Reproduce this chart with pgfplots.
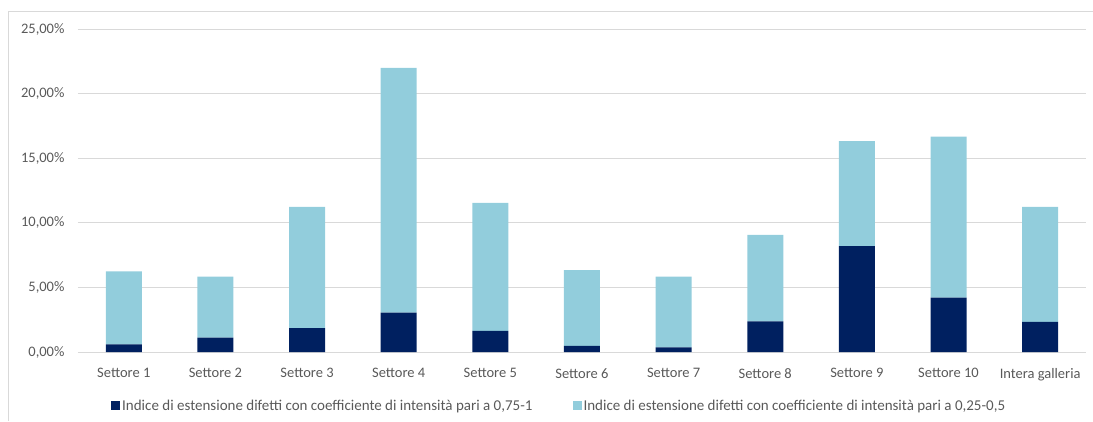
\documentclass[border=0pt]{standalone}
\usepackage{pgfplots}
\pgfplotsset{compat=1.18}
\usepackage{fontspec}
\setmainfont{Carlito}

\definecolor{navy}{RGB}{0,32,96}
\definecolor{lightblue}{RGB}{146,205,220}
\definecolor{gridgray}{RGB}{217,217,217}
\definecolor{labelgray}{RGB}{89,89,89}
\definecolor{framegray}{RGB}{217,217,217}

% Indice 0,75-1 (dark) and 0,25-0,5 (light), in percent
\pgfplotstableread{
x  alta  media
0  0.59  5.66
1  1.11  4.73
2  1.84  9.40
3  3.04  18.96
4  1.63  9.92
5  0.47  5.86
6  0.36  5.48
7  2.38  6.68
8  8.20  8.12
9  4.20  12.47
10 2.34  8.90
}\datatable

\begin{document}
\begin{tikzpicture}
\useasboundingbox (0pt,0pt) rectangle (1093pt,421pt);
\draw[framegray, line width=0.8pt] (8pt,0pt) -- (8pt,410pt) -- (1093pt,410pt);
\begin{axis}[
  at={(123.8pt,69pt)}, anchor=origin,
  scale only axis,
  width=1008pt, height=323pt,
  ybar stacked,
  bar width=36pt,
  xmin=-0.5, xmax=10.5,
  ymin=0, ymax=25,
  xtick={0,...,10},
  xticklabels={Settore 1,Settore 2,Settore 3,Settore 4,Settore 5,Settore 6,Settore 7,Settore 8,Settore 9,Settore 10,Intera galleria},
  ytick={0,5,10,15,20,25},
  yticklabels={{0,00\%},{5,00\%},{10,00\%},{15,00\%},{20,00\%},{25,00\%}},
  ymajorgrids,
  grid style={gridgray, line width=0.9pt},
  axis line style={draw=none},
  axis x line*=bottom,
  x axis line style={draw=gridgray, line width=0.9pt},
  major tick length=0pt,
  tick label style={font=\fontsize{14.5}{16}\selectfont, text=labelgray},
  xticklabel style={yshift=-13pt},
  yticklabel style={xshift=-10pt},
  legend columns=2,
  legend style={
    at={(0.0298,-0.167)}, anchor=west,
    draw=none, fill=none,
    font=\fontsize{15}{17}\selectfont, text=labelgray,
    /tikz/every even column/.append style={column sep=38pt},
  },
  legend image code/.code={\fill[#1] (0pt,-4.5pt) rectangle (9pt,4.5pt);},
]
\addplot[fill=navy, draw=none] table[x=x, y=alta] {\datatable};
\addplot[fill=lightblue, draw=none] table[x=x, y=media] {\datatable};
\legend{{Indice di estensione difetti con coefficiente di intensità pari a 0,75-1},
        {Indice di estensione difetti con coefficiente di intensità pari a 0,25-0,5}}
\end{axis}
\end{tikzpicture}
\end{document}
